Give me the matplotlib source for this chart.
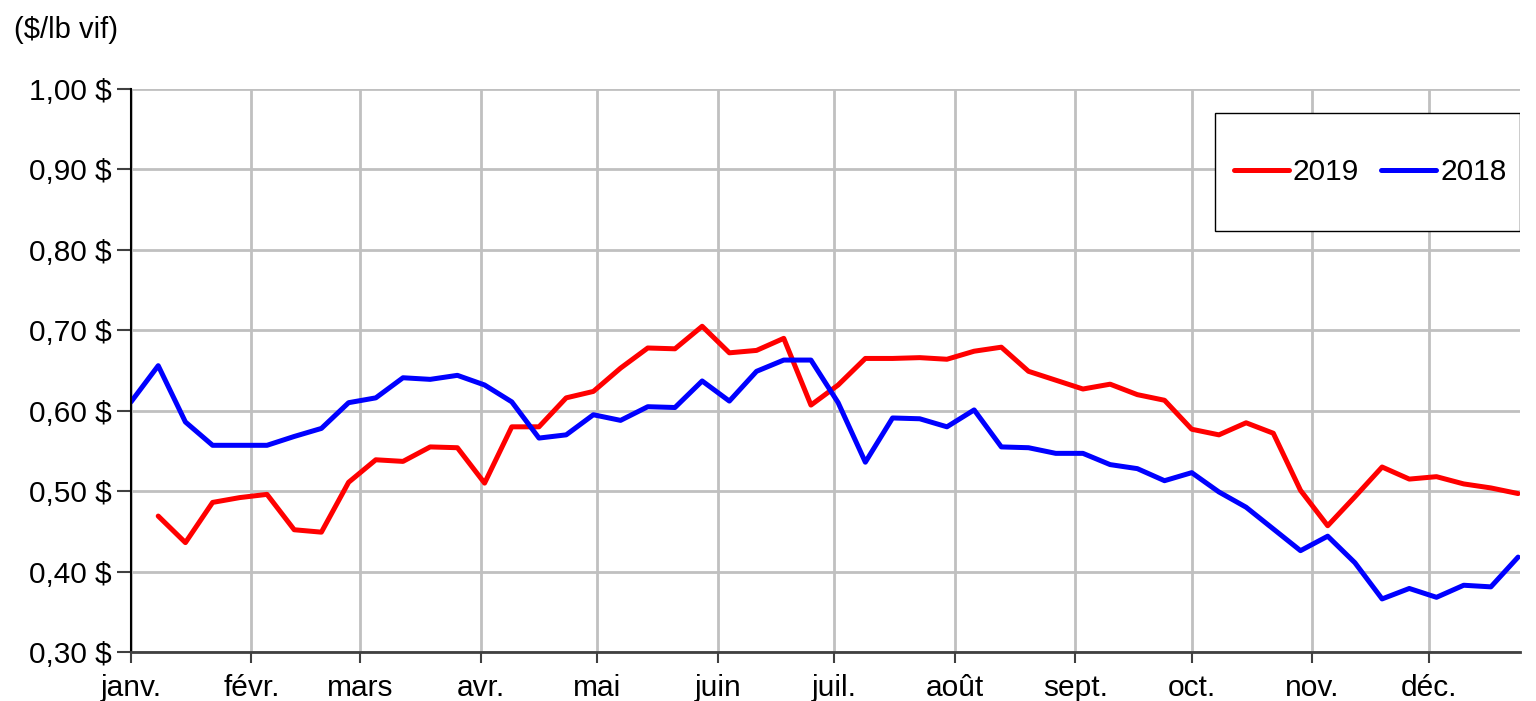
import numpy as np
import matplotlib.pyplot as plt
from matplotlib.patches import Rectangle

plt.rcParams['font.family'] = ['Liberation Sans', 'DejaVu Sans']

# weekly prices ($/lb live weight), week index 0..51
prix_2019 = [np.nan, 0.469, 0.436, 0.486, 0.492, 0.496, 0.452, 0.449, 0.511, 0.539,
             0.537, 0.555, 0.554, 0.510, 0.580, 0.580, 0.616, 0.624, 0.653, 0.678,
             0.677, 0.705, 0.672, 0.675, 0.690, 0.607, 0.632, 0.665, 0.665, 0.666,
             0.664, 0.674, 0.679, 0.649, 0.638, 0.627, 0.633, 0.620, 0.613, 0.577,
             0.570, 0.585, 0.572, 0.501, 0.457, 0.493, 0.530, 0.515, 0.518, 0.509,
             0.504, 0.497]
prix_2018 = [0.611, 0.656, 0.586, 0.557, 0.557, 0.557, 0.568, 0.578, 0.610, 0.616,
             0.641, 0.639, 0.644, 0.632, 0.611, 0.566, 0.570, 0.595, 0.588, 0.605,
             0.604, 0.637, 0.612, 0.649, 0.663, 0.663, 0.610, 0.536, 0.591, 0.590,
             0.580, 0.601, 0.555, 0.554, 0.547, 0.547, 0.533, 0.528, 0.513, 0.523,
             0.499, 0.480, 0.453, 0.426, 0.444, 0.411, 0.366, 0.379, 0.368, 0.383,
             0.381, 0.418]

mois = ['janv.', 'févr.', 'mars', 'avr.', 'mai', 'juin',
        'juil.', 'août', 'sept.', 'oct.', 'nov.', 'déc.']
debut_mois = [0, 31, 59, 90, 120, 151, 181, 212, 243, 273, 304, 334]

jours = np.arange(len(prix_2018)) * 7

fig = plt.figure(figsize=(15.36, 7.01), dpi=100)
ax = fig.add_axes([0.0853, 0.0699, 0.9043, 0.8031])

ax.plot(jours, prix_2019, color='#ff0000', lw=3.6, label='2019', solid_capstyle='round')
ax.plot(jours, prix_2018, color='#0000ff', lw=3.6, label='2018', solid_capstyle='round')

ax.set_xlim(0, 357.5)
ax.set_ylim(0.30, 1.00)
ax.set_xticks(debut_mois)
ax.set_xticklabels(mois)
yt = np.arange(0.30, 1.001, 0.10)
ax.set_yticks(yt)
ax.set_yticklabels([('%.2f $' % v).replace('.', ',') for v in yt])

ax.grid(True, color='#c0c0c0', lw=2)
ax.set_axisbelow(True)
ax.tick_params(axis='both', labelsize=21.5, color='#404040')
ax.tick_params(axis='y', length=10, width=1.5, pad=4)
ax.tick_params(axis='x', length=8, width=1.5, pad=8)

for s in ['top', 'right']:
    ax.spines[s].set_visible(False)
ax.spines['left'].set_color('black')
ax.spines['left'].set_linewidth(1.5)
ax.spines['bottom'].set_color('#404040')
ax.spines['bottom'].set_linewidth(2)

# legend box
ax.add_patch(Rectangle((0.7804, 0.748), 0.2196, 0.209, transform=ax.transAxes,
                       facecolor='white', edgecolor='black', lw=1, zorder=4.9))
leg = ax.legend(ncol=2, loc='center', bbox_to_anchor=(0.892, 0.8526),
                fontsize=21.5, frameon=False, borderpad=0, borderaxespad=0,
                handlelength=1.85, handletextpad=0.13, columnspacing=0.73)
leg.set_zorder(5)

fig.text(0.009, 0.957, '($/lb vif)', fontsize=21, va='center', ha='left')

fig.savefig('out.png', dpi=100)
